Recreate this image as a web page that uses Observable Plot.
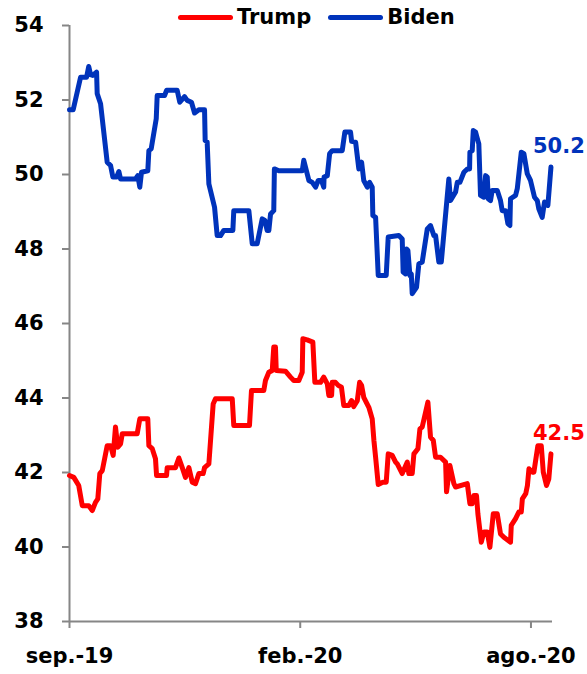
<!DOCTYPE html>
<html>
<head>
<meta charset="utf-8">
<script src="https://cdn.jsdelivr.net/npm/d3@7"></script>
<script src="https://cdn.jsdelivr.net/npm/@observablehq/plot@0.6"></script>
<style>
  html, body { margin: 0; padding: 0; background: #fff; }
  #wrap { position: relative; width: 587px; height: 674px; font-family: "DejaVu Sans", sans-serif; }
  #legend { position: absolute; top: 0; left: 178px; display: flex; align-items: center; font-weight: bold; font-size: 21px; color: #000; height: 34px; }
  .item { display: flex; align-items: center; margin-right: 17px; }
  .swatch { width: 55px; height: 5px; border-radius: 3px; margin-right: 4px; }
</style>
</head>
<body>
<div id="wrap">
  <div id="legend"></div>
  <div id="chart"></div>
</div>
<script>
// Poll averages, Sept 2019 – Aug 2020 (x = day index on the category axis)
const seriesNames = ["Trump", "Biden"];
const seriesColors = ["#ff0000", "#0033bb"];

const bidenDay = [0, 2.4, 7.2, 11.1, 12.5, 13.7, 15.1, 17.6, 18.0, 20.2, 24.5, 26.7, 28.2, 30.6, 32.1, 33.2, 42.9, 44.4, 45.7, 46.8,
  50.9, 51.6, 53.1, 56.4, 57.0, 61.8, 63.1, 70.0, 71.7, 74.8, 76.5, 79.3, 81.3, 84.1, 87.8, 88.2, 89.5, 90.6, 94.3, 96.0,
  98.2, 100.3, 106.2, 106.8, 116.6, 118.8, 122.0, 125.3, 127.0, 128.5, 129.6, 130.7, 132.8, 133.2, 136.1, 151.3, 152.3, 155.6, 157.8, 160.0,
  161.7, 163.8, 165.3, 165.5, 167.6, 169.1, 170.8, 177.3, 179.0, 182.7, 183.4, 186.0, 188.1, 189.9, 191.3, 193.6, 195.1, 196.8, 197.2, 199.0,
  200.7, 205.9, 207.2, 214.1, 216.3, 216.9, 218.5, 219.1, 220.0, 221.3, 222.2, 222.8, 225.6, 227.1, 229.3, 232.6, 234.7, 236.9, 238.0, 240.1,
  241.7, 246.6, 247.7, 251.0, 252.1, 253.8, 256.4, 258.6, 260.1, 260.3, 261.8, 262.5, 264.0, 265.5, 266.1, 267.2, 269.4, 270.5, 271.6, 272.2,
  273.7, 274.8, 278.1, 280.2, 281.3, 283.5, 285.0, 286.3, 286.7, 290.0, 291.1, 293.7, 295.4, 297.6, 299.7, 302.3, 304.1, 305.1, 307.3, 308.8,
  311.0, 313];
const bidenValue = [51.74, 51.74, 52.61, 52.61, 52.9, 52.68, 52.66, 52.75, 52.17, 51.9, 50.33, 50.24, 49.93, 49.93, 50.08, 49.88, 49.88, 49.97, 49.66, 50.06,
  50.1, 50.64, 50.69, 51.5, 52.12, 52.12, 52.26, 52.26, 51.94, 52.09, 51.99, 51.94, 51.65, 51.74, 51.74, 50.91, 50.87, 49.75, 49.12, 48.36,
  48.36, 48.5, 48.5, 49.03, 49.03, 48.14, 48.14, 48.81, 48.77, 48.5, 48.5, 48.94, 49.03, 50.15, 50.1, 50.1, 50.38, 49.84, 49.79, 49.66,
  49.84, 49.84, 49.66, 49.93, 49.97, 50.56, 50.64, 50.64, 51.14, 51.14, 50.89, 50.87, 50.15, 50.33, 49.84, 49.66, 49.79, 49.66, 48.9, 48.85,
  47.29, 47.29, 48.32, 48.36, 48.27, 47.38, 47.33, 48.0, 47.96, 47.29, 47.33, 46.8, 46.97, 47.6, 47.65, 48.54, 48.63, 48.36, 48.36, 47.65,
  47.65, 49.88, 49.3, 49.53, 49.79, 49.79, 50.06, 50.15, 50.15, 50.6, 50.64, 51.18, 51.14, 50.91, 50.82, 49.44, 49.39, 49.97, 49.93, 49.35,
  49.3, 49.57, 49.57, 49.3, 49.03, 49.03, 48.68, 48.63, 49.35, 49.44, 49.62, 50.6, 50.56, 50.02, 49.84, 49.39, 49.3, 49.08, 48.85, 49.26,
  49.17, 50.2];

const trumpDay = [0, 2.8, 6.0, 8.3, 12.5, 14.8, 16.9, 18.4, 19.7, 21.3, 24.5, 26.7, 28.4, 29.9, 31.4, 33.2, 34.3, 44.0, 45.7, 50.9,
  51.6, 53.8, 55.9, 56.6, 63.1, 63.5, 68.9, 71.1, 73.3, 75.4, 77.6, 79.8, 81.9, 84.1, 86.9, 87.8, 90.6, 93.4, 94.9, 105.8,
  106.8, 117.0, 118.3, 126.3, 127.4, 129.6, 131.8, 132.8, 133.9, 134.4, 140.4, 143.7, 145.8, 149.1, 151.3, 151.7, 154.5, 158.2, 159.5, 163.2,
  165.3, 167.6, 168.6, 170.4, 170.8, 172.9, 174.7, 176.8, 178.3, 181.6, 183.4, 184.8, 187.1, 188.6, 189.9, 191.3, 194.6, 196.8, 197.9, 199.0,
  200.7, 203.7, 205.9, 207.2, 209.8, 212.0, 213.1, 216.3, 219.6, 220.6, 222.8, 223.9, 226.5, 227.8, 229.3, 233.0, 234.7, 236.5, 238.0, 241.2,
  244.5, 245.1, 247.3, 249.9, 251.0, 258.6, 260.3, 261.8, 262.9, 264.6, 265.5, 267.7, 269.4, 271.6, 273.3, 275.5, 278.1, 280.2, 282.4, 286.7,
  287.2, 290.0, 292.1, 293.7, 294.4, 296.6, 297.7, 298.7, 300.8, 301.9, 304.5, 306.7, 308.0, 310.1, 311.6, 313];
const trumpValue = [41.92, 41.87, 41.65, 41.11, 41.11, 40.98, 41.2, 41.29, 41.97, 42.05, 42.72, 42.72, 42.46, 43.22, 42.68, 42.77, 43.04, 43.04, 43.44, 43.44,
  42.72, 42.64, 42.37, 41.92, 41.92, 42.13, 42.13, 42.39, 42.13, 41.87, 42.13, 41.74, 41.7, 41.97, 41.97, 42.13, 42.23, 43.84, 43.98, 43.98,
  43.26, 43.26, 44.2, 44.2, 44.47, 44.69, 44.74, 45.37, 45.37, 44.74, 44.72, 44.56, 44.47, 44.47, 44.69, 45.59, 45.56, 45.5, 44.42, 44.42,
  44.56, 44.38, 44.07, 44.07, 44.42, 44.42, 44.34, 44.29, 43.8, 43.8, 43.93, 43.77, 43.93, 44.42, 44.34, 44.02, 43.75, 43.44, 42.86, 42.41,
  41.68, 41.74, 41.74, 42.5, 42.46, 42.28, 42.23, 41.97, 42.28, 41.97, 41.97, 42.5, 42.64, 43.17, 43.22, 43.89, 42.95, 42.86, 42.41, 42.41,
  42.28, 41.48, 42.19, 41.7, 41.61, 41.7, 41.16, 41.16, 41.38, 41.38, 40.89, 40.13, 40.4, 40.4, 39.99, 40.89, 40.89, 40.35, 40.26, 40.13,
  40.58, 40.76, 40.94, 40.94, 41.29, 41.43, 41.65, 42.1, 42.01, 42.01, 42.72, 42.72, 42.01, 41.65, 41.83, 42.5];

const xTicks = [0, 150, 300];
const xTickLabels = ["sep.-19", "feb.-20", "ago.-20"];
const yTicks = [38, 40, 42, 44, 46, 48, 50, 52, 54];

const toRows = (days, values, name) => days.map((d, i) => ({day: d, value: values[i], name}));
const trump = toRows(trumpDay, trumpValue, "Trump");
const biden = toRows(bidenDay, bidenValue, "Biden");
const lastPoints = [trump[trump.length - 1], biden[biden.length - 1]];

const colorOf = name => seriesColors[seriesNames.indexOf(name)];
const axisGray = "#868686";
const font = "'DejaVu Sans', sans-serif";

const chart = Plot.plot({
  width: 587,
  height: 674,
  marginTop: 25,
  marginBottom: 53,
  marginLeft: 69,
  marginRight: 35,
  style: {fontFamily: font, fontSize: "21px", fontWeight: "bold", color: "#000", background: "#fff", overflow: "visible"},
  x: {domain: [0, 314]},
  y: {domain: [38, 54]},
  marks: [
    Plot.axisY({ticks: yTicks, tickSize: 7, tickPadding: 19, stroke: axisGray, strokeWidth: 2, fill: "#000", label: null, fontSize: 21, fontWeight: "bold"}),
    Plot.axisX({ticks: xTicks, tickFormat: (d) => xTickLabels[xTicks.indexOf(d)], tickSize: 7, tickPadding: 20, stroke: axisGray, strokeWidth: 2, fill: "#000", label: null, fontSize: 21, fontWeight: "bold"}),
    Plot.ruleX([0], {stroke: axisGray, strokeWidth: 2}),
    Plot.ruleY([38], {stroke: axisGray, strokeWidth: 2}),
    Plot.line(trump, {x: "day", y: "value", stroke: colorOf("Trump"), strokeWidth: 5, strokeLinejoin: "round", strokeLinecap: "round"}),
    Plot.line(biden, {x: "day", y: "value", stroke: colorOf("Biden"), strokeWidth: 5, strokeLinejoin: "round", strokeLinecap: "round"}),
    Plot.text(lastPoints, {x: "day", y: "value", text: d => d.value.toFixed(1), fill: d => colorOf(d.name), textAnchor: "start", dx: -18, dy: -21, fontSize: 21, fontWeight: "bold"})
  ]
});
document.getElementById("chart").appendChild(chart);

// Legend above the plot
const legend = document.getElementById("legend");
seriesNames.forEach((name, i) => {
  const item = document.createElement("div");
  item.className = "item";
  const sw = document.createElement("div");
  sw.className = "swatch";
  sw.style.background = seriesColors[i];
  const label = document.createElement("span");
  label.textContent = name;
  item.appendChild(sw);
  item.appendChild(label);
  legend.appendChild(item);
});
</script>
</body>
</html>
